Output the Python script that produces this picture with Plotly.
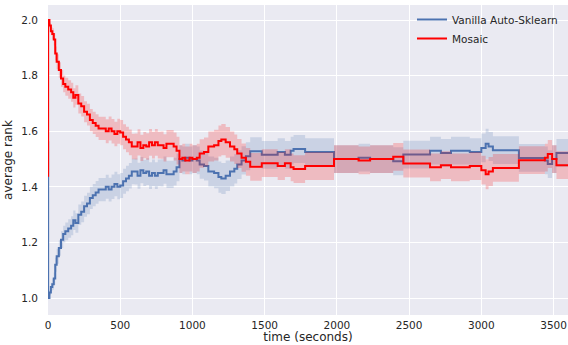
import plotly.graph_objects as go

times = [0, 1, 10, 20, 30, 40, 50, 60, 75, 90,
         105, 120, 140, 160, 175, 190, 210, 230, 250, 270,
         290, 310, 330, 350, 380, 400, 420, 440, 460, 480,
         500, 520, 540, 560, 580, 600, 620, 640, 660, 680,
         700, 720, 740, 760, 780, 800, 820, 840, 870, 890,
         910, 930, 950, 980, 1000, 1030, 1050, 1080, 1110, 1150,
         1180, 1200, 1230, 1260, 1290, 1310, 1340, 1370, 1400, 1480,
         1590, 1640, 1680, 1700, 1780, 1980, 2120, 2150, 2230, 2390,
         2460, 2645, 2700, 2720, 2790, 2920, 3000, 3030, 3050, 3080,
         3260, 3440, 3460, 3490, 3520, 3600]

mosaic = [1.44, 2.00, 1.98, 1.96, 1.95, 1.93, 1.88, 1.85, 1.82, 1.79,
          1.77, 1.76, 1.75, 1.74, 1.72, 1.73, 1.70, 1.69, 1.67, 1.66,
          1.64, 1.63, 1.62, 1.61, 1.61, 1.60, 1.61, 1.60, 1.59, 1.60,
          1.595, 1.58, 1.57, 1.56, 1.545, 1.545, 1.56, 1.54, 1.55, 1.545,
          1.56, 1.55, 1.56, 1.55, 1.55, 1.54, 1.555, 1.555, 1.545, 1.53,
          1.50, 1.505, 1.495, 1.505, 1.50, 1.505, 1.52, 1.525, 1.545, 1.55,
          1.565, 1.57, 1.56, 1.545, 1.535, 1.52, 1.505, 1.49, 1.472, 1.485,
          1.475, 1.485, 1.47, 1.464, 1.475, 1.50, 1.50, 1.495, 1.50, 1.508,
          1.484, 1.47, 1.47, 1.478, 1.47, 1.475, 1.46, 1.445, 1.455, 1.468,
          1.496, 1.505, 1.518, 1.50, 1.478, 1.478]

vanilla = [1.56, 1.00, 1.02, 1.04, 1.05, 1.07, 1.12, 1.15, 1.18, 1.21,
           1.23, 1.24, 1.25, 1.26, 1.28, 1.27, 1.30, 1.31, 1.33, 1.34,
           1.36, 1.37, 1.38, 1.39, 1.39, 1.40, 1.39, 1.40, 1.41, 1.40,
           1.405, 1.42, 1.43, 1.44, 1.455, 1.455, 1.44, 1.46, 1.45, 1.455,
           1.44, 1.45, 1.44, 1.45, 1.45, 1.46, 1.445, 1.445, 1.455, 1.47,
           1.50, 1.495, 1.505, 1.495, 1.50, 1.495, 1.48, 1.475, 1.455, 1.45,
           1.435, 1.43, 1.44, 1.455, 1.465, 1.48, 1.495, 1.51, 1.528, 1.515,
           1.525, 1.515, 1.53, 1.536, 1.525, 1.50, 1.50, 1.505, 1.50, 1.492,
           1.516, 1.53, 1.53, 1.522, 1.53, 1.525, 1.54, 1.555, 1.545, 1.532,
           1.504, 1.495, 1.482, 1.50, 1.522, 1.522]

spread = [0.0, 0.0, 0.01, 0.015, 0.02, 0.022, 0.025, 0.027, 0.028, 0.03,
          0.03, 0.032, 0.033, 0.034, 0.035, 0.035, 0.036, 0.037, 0.038, 0.039,
          0.04, 0.04, 0.041, 0.042, 0.042, 0.043, 0.043, 0.044, 0.044, 0.045,
          0.045, 0.045, 0.046, 0.046, 0.046, 0.047, 0.047, 0.047, 0.047, 0.048,
          0.048, 0.048, 0.048, 0.048, 0.049, 0.049, 0.049, 0.049, 0.05, 0.05,
          0.05, 0.05, 0.05, 0.05, 0.05, 0.05, 0.051, 0.052, 0.054, 0.055,
          0.056, 0.056, 0.055, 0.054, 0.053, 0.052, 0.051, 0.05, 0.05, 0.05,
          0.05, 0.05, 0.05, 0.05, 0.05, 0.05, 0.05, 0.05, 0.05, 0.05,
          0.05, 0.05, 0.05, 0.05, 0.05, 0.05, 0.052, 0.054, 0.052, 0.05,
          0.05, 0.05, 0.05, 0.05, 0.05, 0.05]

x_ticks = [0, 500, 1000, 1500, 2000, 2500, 3000, 3500]
y_ticks = [1.0, 1.2, 1.4, 1.6, 1.8, 2.0]

series = [
    ("Vanilla Auto-Sklearn", vanilla, "#4C72B0", "rgba(76,114,176,0.2)"),
    ("Mosaic", mosaic, "#FF0000", "rgba(255,0,0,0.2)"),
]

fig = go.Figure()
for name, vals, color, fillc in series:
    upper = [v + s for v, s in zip(vals, spread)]
    lower = [v - s for v, s in zip(vals, spread)]
    fig.add_trace(go.Scatter(x=times, y=upper, mode="lines", line=dict(width=0, shape="hv"),
                             showlegend=False, hoverinfo="skip"))
    fig.add_trace(go.Scatter(x=times, y=lower, mode="lines", line=dict(width=0, shape="hv"),
                             fill="tonexty", fillcolor=fillc, showlegend=False, hoverinfo="skip"))
    fig.add_trace(go.Scatter(x=times, y=vals, mode="lines", name=name,
                             line=dict(color=color, width=2, shape="hv")))

font_family = "DejaVu Sans"
fig.update_layout(
    width=568, height=345,
    margin=dict(l=48, r=0, t=5, b=30),
    paper_bgcolor="white",
    plot_bgcolor="#EAEAF2",
    font=dict(family=font_family, size=10.5, color="#262626"),
    legend=dict(x=0.70, y=1.0, xanchor="left", yanchor="top",
                traceorder="normal",
                bgcolor="rgba(0,0,0,0)", font=dict(size=10.5),
                itemwidth=30, tracegroupgap=0),
    xaxis=dict(range=[0, 3600], tickvals=x_ticks,
               showgrid=True, gridcolor="white", gridwidth=1, zeroline=False,
               showline=False, ticks="", automargin=False, ticklabelstandoff=2,
               title=dict(text="time (seconds)", standoff=3, font=dict(size=12))),
    yaxis=dict(range=[0.939, 2.054], tickvals=y_ticks,
               tickformat=".1f",
               showgrid=True, gridcolor="white", gridwidth=1, zeroline=False,
               showline=False, ticks="", automargin=False, ticklabelstandoff=9,
               title=dict(text="average rank", standoff=6, font=dict(size=12))),
)

fig.write_html("out.html", config={"displayModeBar": False},
               post_script="document.body.style.margin='0';document.body.style.overflow='hidden';")
